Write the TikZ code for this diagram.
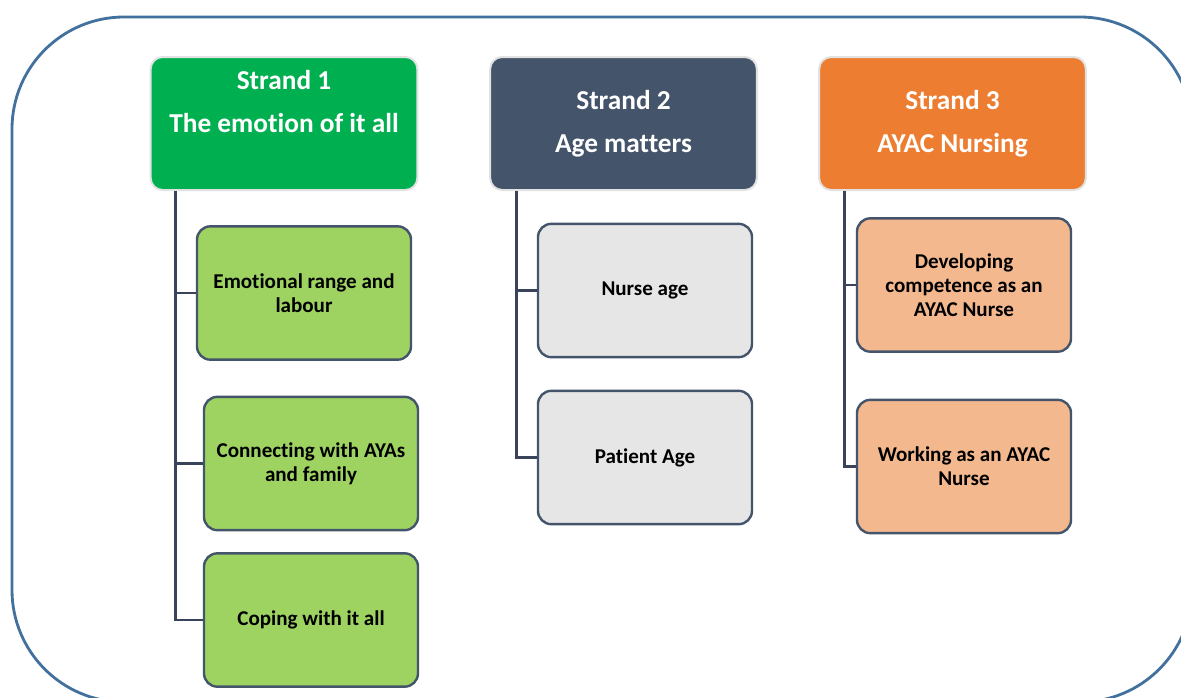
\documentclass[tikz,border=0pt]{standalone}
\usepackage{fontspec}
\setmainfont{Carlito}[Ligatures=CommonOff]
\usetikzlibrary{calc}
\definecolor{sgreen}{HTML}{00B050}
\definecolor{sslate}{HTML}{44546A}
\definecolor{sorange}{HTML}{ED7D31}
\definecolor{cgreen}{RGB}{158,211,98}
\definecolor{cgray}{HTML}{E7E6E6}
\definecolor{corange}{RGB}{244,184,142}
\definecolor{cborder}{HTML}{44546A}
\definecolor{hborder}{HTML}{E2E2E2}
\definecolor{connc}{HTML}{39435A}
\definecolor{outerc}{HTML}{41719C}
\tikzset{
  header/.style={rectangle, rounded corners=9pt, draw=hborder, line width=1.5pt,
    minimum width=200pt, minimum height=99.75pt, text=white, align=center,
    font=\bfseries\fontsize{20.5}{32}\selectfont, inner sep=0pt},
  child/.style={rectangle, rounded corners=10pt, draw=cborder, line width=1.8pt,
    minimum width=160.5pt, minimum height=100pt, text=black, align=center,
    font=\bfseries\fontsize{15.8}{17.8}\selectfont, inner sep=0pt},
  conn/.style={draw=connc, line width=2.2pt},
  outerbox/.style={draw=outerc, line width=2.1pt, rounded corners=84pt}
}
\begin{document}
\begin{tikzpicture}[x=0.75pt, y=-0.75pt]
\useasboundingbox (0,0) rectangle (1181,697);
\fill[white] (0,0) rectangle (1181,697);
\draw[outerbox] (12,17) rectangle (1192,702);

% headers
\node[header, fill=sgreen] (s1) at (284,123.5) {Strand 1\\The emotion of it all\\[-8pt]\strut};
\node[header, fill=sslate] (s2) at (623.5,123.5) {Strand 2\\Age matters};
\node[header, fill=sorange] (s3) at (952.5,123.5) {Strand 3\\AYAC Nursing};

% children strand 1
\node[child, fill=cgreen] (c11) at (304,293) {Emotional range and\\labour};
\node[child, fill=cgreen] (c12) at (311,463.5) {Connecting with AYAs\\and family};
\node[child, fill=cgreen] (c13) at (311,620) {Coping with it all};
% children strand 2
\node[child, fill=cgray] (c21) at (645,290.5) {Nurse age};
\node[child, fill=cgray] (c22) at (645,457.5) {Patient Age};
% children strand 3
\node[child, fill=corange] (c31) at (964,285) {Developing\\competence as an\\AYAC Nurse};
\node[child, fill=corange] (c32) at (964,466.5) {Working as an AYAC\\Nurse};

% trunks
\coordinate (t1) at ($(s1.south west)+(26,0)$);
\coordinate (t2) at ($(s2.south west)+(27,0)$);
\coordinate (t3) at ($(s3.south west)+(26,0)$);
\draw[conn] (t1) |- (c13.west);
\draw[conn] (t1) |- (c11.west);
\draw[conn] (t1) |- (c12.west);
\draw[conn] (t2) |- (c22.west);
\draw[conn] (t2) |- (c21.west);
\draw[conn] (t3) |- (c32.west);
\draw[conn] (t3) |- (c31.west);
\end{tikzpicture}
\end{document}
